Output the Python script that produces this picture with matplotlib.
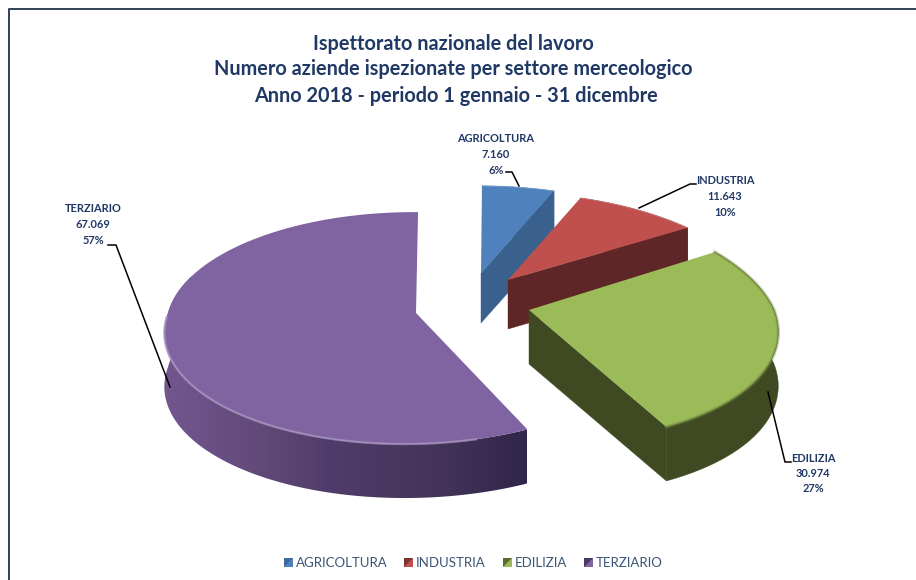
import numpy as np
from matplotlib import pyplot as plt
from matplotlib.colors import to_rgb, LinearSegmentedColormap
from matplotlib.patches import Polygon

plt.rcParams['font.family'] = ['Lato', 'DejaVu Sans']

# values
categories = ['AGRICOLTURA', 'INDUSTRIA', 'EDILIZIA', 'TERZIARIO']
values = [7160, 11643, 30974, 67069]
value_labels = ['7.160', '11.643', '30.974', '67.069']
title_lines = ['Ispettorato nazionale del lavoro',
               'Numero aziende ispezionate per settore merceologico',
               'Anno 2018 - periodo 1 gennaio - 31 dicembre']

top_colors = ['#4f81bd', '#c0504d', '#9bbb59', '#8064a2']
wall_colors = ['#3a618e', '#5e2626', '#3f4a22', '#30264a']
text_color = '#1f3864'

# fake 3d: apex x, apex y, radius, squashed radius, perspective, back shear, front shear, depth
slice_geom = [(481, 273, 262, 122, 0.40, -3, 0, 50),
              (508, 280, 253, 122, 0.40, 0, 0, 49),
              (529, 310, 245, 118, 0.10, -28, -21, 54),
              (416, 313, 248, 114, 0.13, -2, 10, 54)]
start_angle = 1.0

label_pos = [(496, 139), (725, 181), (813, 458), (93, 209)]
leaders = [[(506, 172), (512, 172), (519, 186)],
           [(696, 184), (690, 184), (639, 208)],
           [(791, 462), (785, 462), (768, 392)],
           [(108, 245), (116, 245), (170, 387)]]
legend_x = [284, 404, 503, 584]
title_x = [453.5, 453.5, 455.5]
title_y = [44, 69, 96]

wall_shade = LinearSegmentedColormap.from_list(
    'wall', [(0, '#72578f'), (0.3, '#5f4775'), (0.45, '#503c6a'), (0.75, '#44345a'), (1, '#30264a')])


def project(theta, geom):
    cx, cy, r, rt, p, kb, kf, d = geom
    u = np.sin(np.radians(theta))
    v = np.cos(np.radians(theta))
    s = 1 / (1 + p * v)
    k = np.where(v > 0, kb, kf)
    return cx + (r * u + k * v) * s, cy - rt * v * s


def mix(c1, c2, f):
    a = np.array(to_rgb(c1))
    b = np.array(to_rgb(c2))
    return tuple(a + (b - a) * f)


def draw_slice(ax, a0, a1, geom, top, wall, purple):
    cx, cy = geom[0], geom[1]
    d = geom[-1]
    th = np.linspace(a0, a1, 300)
    x, y = project(th, geom)
    if purple:
        # only the front of the wall shows, shaded left to right
        keep = th < 290
        wall_x = np.r_[x[keep], x[keep][::-1]]
        wall_y = np.r_[y[keep], y[keep][::-1] + d]
        im = ax.imshow(np.linspace(0, 1, 256).reshape(1, -1), cmap=wall_shade, aspect='auto',
                       extent=(wall_x.min(), wall_x.max(), wall_y.max(), wall_y.min()), zorder=2)
        im.set_clip_path(Polygon(np.c_[wall_x, wall_y], transform=ax.transData))
    else:
        wall_x = np.r_[x, x[::-1]]
        wall_y = np.r_[y, y[::-1] + d]
        ax.fill([cx, x[-1], x[-1], cx], [cy, y[-1], y[-1] + d, cy + d], color=wall, lw=0.3, zorder=2)
        ax.fill(wall_x, wall_y, color=wall, lw=0.3, zorder=2)
    # top face
    ax.fill(np.r_[cx, x], np.r_[cy, y], color=top, lw=0, zorder=3)
    # soft bevel on the rim
    if purple:
        keep = (th > 165) & (th < 268)
        ax.plot(x[keep], y[keep], color=mix(top, '#ffffff', 0.3), lw=1.6, alpha=0.8, zorder=4)
    elif top == '#9bbb59':
        ax.plot(x, y, color=mix(top, wall, 0.4), lw=2.6, alpha=0.35, zorder=4)
        ax.plot(x, y, color=mix(top, wall, 0.6), lw=1.0, alpha=0.4, zorder=4)
    else:
        ax.plot(x, y, color=mix(top, '#ffffff', 0.4), lw=0.8, alpha=0.5, zorder=4)


fig = plt.figure(figsize=(9.16, 5.8), dpi=100)
ax = fig.add_axes([0, 0, 1, 1])

# chart frame
ax.plot([9, 9, 916], [580, 9, 9], color='#2f3f57', lw=1.4)

shares = np.array(values) / sum(values)
angle = start_angle
for i in range(len(values)):
    span = shares[i] * 360
    draw_slice(ax, angle, angle + span, slice_geom[i], top_colors[i], wall_colors[i], i == 3)
    angle = angle + span

for i, name in enumerate(categories):
    pct = '%d%%' % round(shares[i] * 100)
    lx, ly = label_pos[i]
    for j, line in enumerate([name, value_labels[i], pct]):
        ax.text(lx, ly + j * 15.5, line, ha='center', va='center', fontsize=7.9,
                fontweight='bold', color=text_color, zorder=6)
    ax.plot(*zip(*leaders[i]), color='black', lw=1.1, zorder=5)

    # legend
    lgx = legend_x[i]
    ax.fill([lgx, lgx + 9, lgx + 9, lgx], [558, 558, 567, 567], color=top_colors[i], lw=0, zorder=5)
    ax.fill([lgx, lgx + 9, lgx], [567, 558, 558], color=wall_colors[i], lw=0, alpha=0.7, zorder=5)
    ax.text(lgx + 12, 563, name, ha='left', va='center', fontsize=9.5, color='#3b5577')

for tx, ty, line in zip(title_x, title_y, title_lines):
    ax.text(tx, ty, line, ha='center', va='center', fontsize=14.35, fontweight='bold', color=text_color)

ax.set_xlim(0, 916)
ax.set_ylim(580, 0)
ax.axis('off')

fig.savefig('out.png', dpi=100)
